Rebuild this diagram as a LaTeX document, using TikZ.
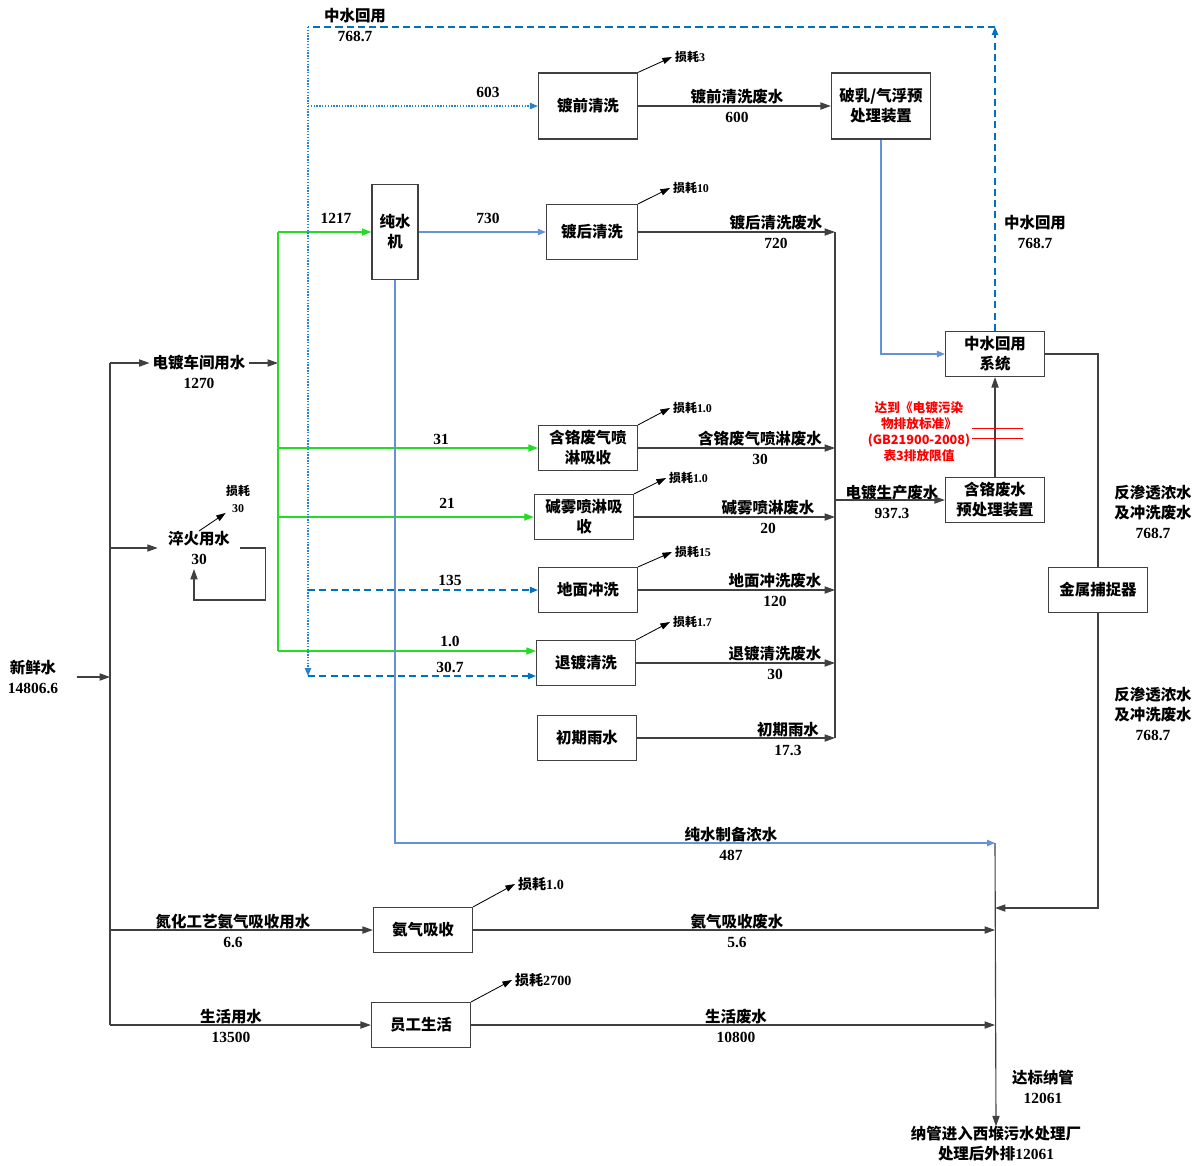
\documentclass[tikz,border=0pt]{standalone}
\usepackage{fontspec}
\setmainfont{Liberation Serif}
\newfontfamily\cjk{Noto Sans CJK SC}
\usetikzlibrary{positioning,arrows.meta,calc}
\definecolor{lgreen}{RGB}{34,221,34}
\definecolor{rblue}{RGB}{0,112,192}
\definecolor{pblue}{RGB}{100,145,215}
\definecolor{dblue}{RGB}{40,130,210}
\definecolor{edge}{RGB}{64,64,64}
\newcommand{\zh}[1]{{\cjk #1}}

\begin{document}
\begin{tikzpicture}[x=0.025cm,y=-0.025cm,>={Triangle[length=2.6mm,width=1.8mm]},
  font=\bfseries\fontsize{11}{14.2}\selectfont,
  box/.style={draw=edge,line width=0.9pt,align=center,inner sep=1pt,minimum width=2.475cm,minimum height=1.125cm},
  lab/.style={align=center,inner sep=0pt},
  loss/.style={anchor=west,inner sep=2pt,font=\bfseries\fontsize{8.5}{10}\selectfont},
  note/.style={align=center,inner sep=0pt,text=red,font=\cjk\bfseries\fontsize{9}{11.4}\selectfont},
  line/.style={draw=edge,line width=0.8pt},
  flow/.style={line,->},
  lossflow/.style={draw=black,line width=0.6pt,-{Triangle[length=2.4mm,width=1.6mm]}},
  gline/.style={draw=lgreen,line width=0.8pt},
  gflow/.style={gline,-{Triangle[length=2.4mm,width=1.8mm]}},
  pflow/.style={draw=pblue,line width=0.9pt,-{Triangle[length=2mm,width=1.6mm]}},
  rdash/.style={draw=rblue,line width=0.8pt,dash pattern=on 5pt off 3pt,-{Triangle[length=2mm,width=1.6mm]}},
  rdot/.style={draw=dblue,line width=0.8pt,dash pattern=on 1pt off 1pt,-{Triangle[length=2mm,width=1.6mm]}}]
  \useasboundingbox (0,0) rectangle (1201,1165);
  % process units
  \node[box,minimum height=1.65cm] (pre) at (588,106) {\zh{镀前清洗}};
  \node[box,minimum height=1.65cm] (demul) at (881,106) {\zh{破乳/气浮预}\\\zh{处理装置}};
  \node[box,minimum width=1.15cm,minimum height=2.375cm] (ro) at (395,232) {\zh{纯水}\\\zh{机}};
  \node[box,minimum width=2.275cm,minimum height=1.375cm] (post) at (592,232) {\zh{镀后清洗}};
  \node[box] (reuse) at (995,354) {\zh{中水回用}\\\zh{系统}};
  \node[box] (crgas) at (588,448) {\zh{含铬废气喷}\\\zh{淋吸收}};
  \node[box] (alk) at (584,517) {\zh{碱雾喷淋吸}\\\zh{收}};
  \node[box] (crpre) at (995,500) {\zh{含铬废水}\\\zh{预处理装置}};
  \node[box] (floor) at (588,590) {\zh{地面冲洗}};
  \node[box] (metal) at (1098,590) {\zh{金属捕捉器}};
  \node[box] (strip) at (586,663) {\zh{退镀清洗}};
  \node[box] (rain) at (587,738) {\zh{初期雨水}};
  \node[box] (nh3) at (423,930) {\zh{氨气吸收}};
  \node[box] (staff) at (421,1025) {\zh{员工生活}};
  % sources on the left
  \node[lab] (fresh) at (33,677) {\zh{新鲜水}\\14806.6};
  \node[lab,inner sep=2pt] (ws) at (199,363) {\zh{电镀车间用水}};
  \node[lab] (wsN) at (199,383) {1270};
  \node[lab,minimum width=2.05cm] (qu) at (199,548) {\zh{淬火用水}\\30};
  \node[lab,font=\bfseries\fontsize{8.5}{12}\selectfont] (qloss) at (238,499) {\zh{损耗}\\30};
  \node[lab] (nh3in) at (233,931) {\zh{氮化工艺氨气吸收用水}\\6.6};
  \node[lab] (livin) at (231,1026) {\zh{生活用水}\\13500};
  % flow labels
  \node[lab] (reuseL) at (355,25) {\zh{中水回用}\\768.7};
  \node[lab] (reuseR) at (1035,232) {\zh{中水回用}\\768.7};
  \node[lab] (q603) at (488,92) {603};
  \node[lab] (q1217) at (336,218) {1217};
  \node[lab] (q730) at (488,218) {730};
  \node[lab] (q31) at (441,439) {31};
  \node[lab] (q21) at (447,503) {21};
  \node[lab] (q135) at (450,580) {135};
  \node[lab] (q10) at (450,641) {1.0};
  \node[lab] (q307) at (450,667) {30.7};
  \node[lab] (w600) at (737,106) {\zh{镀前清洗废水}\\600};
  \node[lab] (w720) at (776,232) {\zh{镀后清洗废水}\\720};
  \node[lab] (w30a) at (760,448) {\zh{含铬废气喷淋废水}\\30};
  \node[lab] (w20) at (768,517) {\zh{碱雾喷淋废水}\\20};
  \node[lab] (w120) at (775,590) {\zh{地面冲洗废水}\\120};
  \node[lab] (w30b) at (775,663) {\zh{退镀清洗废水}\\30};
  \node[lab] (w173) at (788,739) {\zh{初期雨水}\\17.3};
  \node[lab] (w937) at (892,502) {\zh{电镀生产废水}\\937.3};
  \node[lab] (roC) at (1153,512) {\zh{反渗透浓水}\\\zh{及冲洗废水}\\768.7};
  \node[lab] (roD) at (1153,714) {\zh{反渗透浓水}\\\zh{及冲洗废水}\\768.7};
  \node[lab] (w487) at (731,844) {\zh{纯水制备浓水}\\487};
  \node[lab] (w56) at (737,931) {\zh{氨气吸收废水}\\5.6};
  \node[lab] (w10800) at (736,1026) {\zh{生活废水}\\10800};
  \node[lab] (pipe) at (1043,1087) {\zh{达标纳管}\\12061};
  \node[lab] (final) at (996,1144) {\zh{纳管进入西堠污水处理厂}\\\zh{处理后外排}12061};
  \node[note] (std) at (919,432) {达到《电镀污染\\物排放标准》\\(GB21900-2008)\\表3排放限值};
  % losses
  \node[loss] (l1) at (672,57) {\zh{损耗}3};
  \node[loss] (l2) at (670,188) {\zh{损耗}10};
  \node[loss] (l3) at (670,408) {\zh{损耗}1.0};
  \node[loss] (l4) at (666,478) {\zh{损耗}1.0};
  \node[loss] (l5) at (672,552) {\zh{损耗}15};
  \node[loss] (l6) at (670,622) {\zh{损耗}1.7};
  \node[loss,font=\bfseries\fontsize{10}{12}\selectfont] (l7) at (515,884) {\zh{损耗}1.0};
  \node[loss,font=\bfseries\fontsize{10}{12}\selectfont] (l8) at (512,980) {\zh{损耗}2700};
  % junctions
  \coordinate (topL) at (308,27);
  \coordinate (topR) at (995,27);
  \coordinate (dotB) at (308,676);
  \coordinate (t603) at (308,106);
  \coordinate (t135) at (308,590);
  \coordinate (gTop) at (278,232);
  \coordinate (gMid) at (278,363);
  \coordinate (g31) at (278,448);
  \coordinate (g21) at (278,517);
  \coordinate (gBot) at (278,651);
  \coordinate (cTop) at (835,232);
  \coordinate (c448) at (835,448);
  \coordinate (c517) at (835,517);
  \coordinate (cMid) at (835,500);
  \coordinate (c590) at (835,590);
  \coordinate (c663) at (835,663);
  \coordinate (cBot) at (835,738);
  \coordinate (concE) at (995,843);
  \coordinate (mIn) at (995,908);
  \coordinate (o930) at (995,930);
  \coordinate (o1025) at (995,1025);
  \coordinate (trT) at (110,363);
  \coordinate (tr548) at (110,548);
  \coordinate (trF) at (110,677);
  \coordinate (tr930) at (110,930);
  \coordinate (trB) at (110,1025);
  \coordinate (qB) at (194,569);
  % fresh water
  \draw[line] (trT) -- (trB);
  \draw[flow] ([xshift=13pt]fresh.east) -- (trF);
  \draw[flow] (trT) -- (ws.west);
  \draw[flow] (ws.east) -- (gMid);
  \draw[flow] (tr548) -- (qu.west);
  \draw[flow] (qu.east) -- ++(25,0) -- ++(0,52) -| (qB);
  \draw[lossflow] (qu.north) -- (qloss.south west);
  \draw[flow] (tr930) -- (nh3.west);
  \draw[flow] (trB) -- (staff.west);
  % workshop supply
  \draw[gline] (gTop) -- (gBot);
  \draw[gflow] (gTop) -- (ro.west);
  \draw[gflow] (g31) -- (crgas.west);
  \draw[gflow] (g21) -- (alk.west);
  \draw[gflow] (gBot) -- (strip.west |- gBot);
  \draw[pflow] (ro.east) -- (post.west);
  \draw[pflow] (ro.south) |- (concE);
  % reused water
  \draw[rdash] (reuse.north) -- (topR);
  \draw[rdash,-] (topR) -- (topL);
  \draw[rdot] (topL) -- (dotB);
  \draw[rdot] (t603) -- (pre.west);
  \draw[rdash] (t135) -- (floor.west);
  \draw[rdash] (dotB) -- (strip.west |- dotB);
  % waste water
  \draw[flow] (pre.east) -- (demul.west);
  \draw[pflow] (demul.south) |- (reuse.west);
  \draw[line] (cTop) -- (cBot);
  \draw[flow] (post.east) -- (cTop);
  \draw[flow] (crgas.east) -- (c448);
  \draw[flow] (alk.east) -- (c517);
  \draw[flow] (floor.east) -- (c590);
  \draw[flow] (strip.east) -- (c663);
  \draw[flow] (rain.east) -- (cBot);
  \draw[flow] (cMid) -- (crpre.west);
  \draw[flow] (crpre.north) -- (reuse.south);
  \draw[red,line width=0.6pt] (972,428) -- (1023,428) (972,438) -- (1023,438);
  \draw[line] (reuse.east) -| (metal.north);
  \draw[flow] (metal.south) |- (mIn);
  \draw[flow] (nh3.east) -- (o930);
  \draw[flow] (staff.east) -- (o1025);
  \draw[flow] (concE) -- (final.north);
  % losses
  \draw[lossflow] (pre.north east) -- (l1.west);
  \draw[lossflow] (post.north east) -- (l2.west);
  \draw[lossflow] (crgas.north east) -- (l3.west);
  \draw[lossflow] (alk.north east) -- (l4.west);
  \draw[lossflow] (floor.north east) -- (l5.west);
  \draw[lossflow] (strip.north east) -- (l6.west);
  \draw[lossflow] (nh3.north east) -- (l7.west);
  \draw[lossflow] (staff.north east) -- (l8.west);
\end{tikzpicture}
\end{document}
